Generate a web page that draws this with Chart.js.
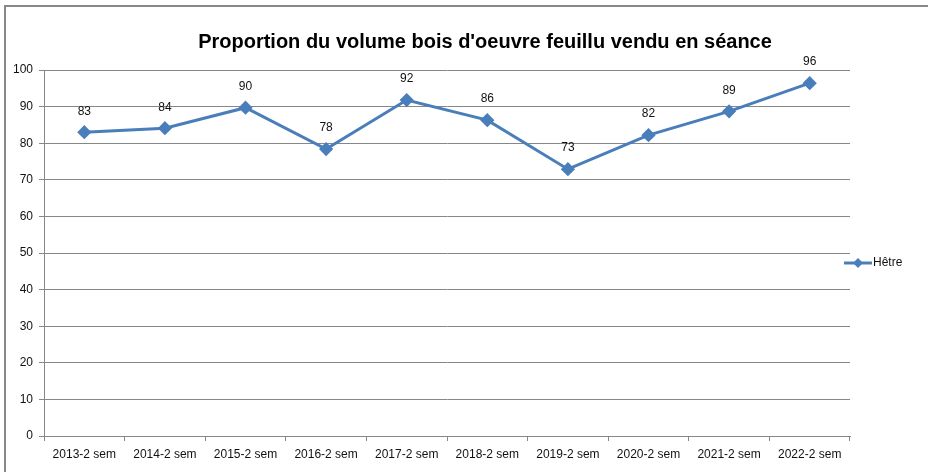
<!DOCTYPE html>
<html><head><meta charset="utf-8">
<script src="https://cdn.jsdelivr.net/npm/chart.js@4"></script>
<style>
html,body{margin:0;padding:0;background:#fff;}
#wrap{position:relative;width:928px;height:472px;}
#frame{position:absolute;left:4px;top:5px;width:930px;height:480px;border-left:2px solid #878787;border-top:2px solid #878787;pointer-events:none;}
</style></head>
<body><div id="wrap"><canvas id="c" width="928" height="472"></canvas><div id="frame"></div></div>
<script>
const categories = ["2013-2 sem","2014-2 sem","2015-2 sem","2016-2 sem","2017-2 sem","2018-2 sem","2019-2 sem","2020-2 sem","2021-2 sem","2022-2 sem"];
const hetre = [83.0, 84.1, 89.7, 78.4, 91.8, 86.3, 72.9, 82.2, 88.7, 96.4];
const yTicks = [0,10,20,30,40,50,60,70,80,90,100];
const seriesName = "Hêtre";
const titleText = "Proportion du volume bois d'oeuvre feuillu vendu en séance";

const FONT = "'Liberation Sans', Arial, sans-serif";
const BLUE = "#4A7EBB";

const labelsPlugin = {
  id: 'lbls',
  afterDatasetsDraw(chart) {
    const ctx = chart.ctx;
    const meta = chart.getDatasetMeta(0);
    ctx.save();
    // title
    ctx.fillStyle = '#000';
    ctx.font = "bold 20px " + FONT;
    ctx.textAlign = 'center';
    ctx.textBaseline = 'middle';
    ctx.fillText(titleText, 485, 42);
    // data labels
    ctx.fillStyle = '#111';
    ctx.font = "12px " + FONT;
    meta.data.forEach((pt, i) => {
      ctx.fillText(String(Math.round(chart.data.datasets[0].data[i])), pt.x, pt.y - 21);
    });
    // legend
    const ca = chart.chartArea;
    const ly = (ca.top + ca.bottom) / 2 + 10;
    const lx = ca.right - 6;
    ctx.strokeStyle = BLUE; ctx.lineWidth = 3;
    ctx.beginPath(); ctx.moveTo(lx, ly); ctx.lineTo(lx + 28, ly); ctx.stroke();
    ctx.fillStyle = BLUE;
    ctx.beginPath();
    const cx = lx + 14, r = 5;
    ctx.moveTo(cx, ly - r); ctx.lineTo(cx + r, ly); ctx.lineTo(cx, ly + r); ctx.lineTo(cx - r, ly); ctx.closePath(); ctx.fill();
    ctx.fillStyle = '#111';
    ctx.textAlign = 'left';
    ctx.fillText(seriesName, lx + 29, ly);
    ctx.restore();
  }
};

new Chart(document.getElementById('c'), {
  type: 'line',
  data: {
    labels: categories,
    datasets: [{
      label: seriesName,
      data: hetre,
      borderColor: BLUE,
      backgroundColor: BLUE,
      borderWidth: 3,
      pointStyle: 'rectRot',
      pointRadius: 5,
      pointHoverRadius: 5,
      tension: 0
    }]
  },
  options: {
    responsive: false,
    animation: false,
    events: [],
    layout: { padding: { top: 70, right: 78, left: 0, bottom: 0 } },
    plugins: {
      legend: { display: false },
      tooltip: { enabled: false },
      title: { display: false }
    },
    scales: {
      x: {
        offset: true,
        grid: { display: true, drawOnChartArea: false, drawTicks: true, tickLength: 5, offset: true, color: '#878787' },
        border: { color: '#878787', width: 1 },
        ticks: { color: '#111', font: { family: FONT, size: 12 }, padding: 6, maxRotation: 0, autoSkip: false },
        afterFit(s) { s.height = 36; }
      },
      y: {
        min: 0, max: 100,
        afterBuildTicks(s) { s.ticks = yTicks.map(v => ({ value: v })); },
        grid: { color: '#878787', tickLength: 5, lineWidth: 1 },
        border: { color: '#878787', width: 1 },
        ticks: { color: '#111', font: { family: FONT, size: 12 }, padding: 6 },
        afterFit(s) { s.width = 44; }
      }
    }
  },
  plugins: [labelsPlugin]
});
</script>
</body></html>
